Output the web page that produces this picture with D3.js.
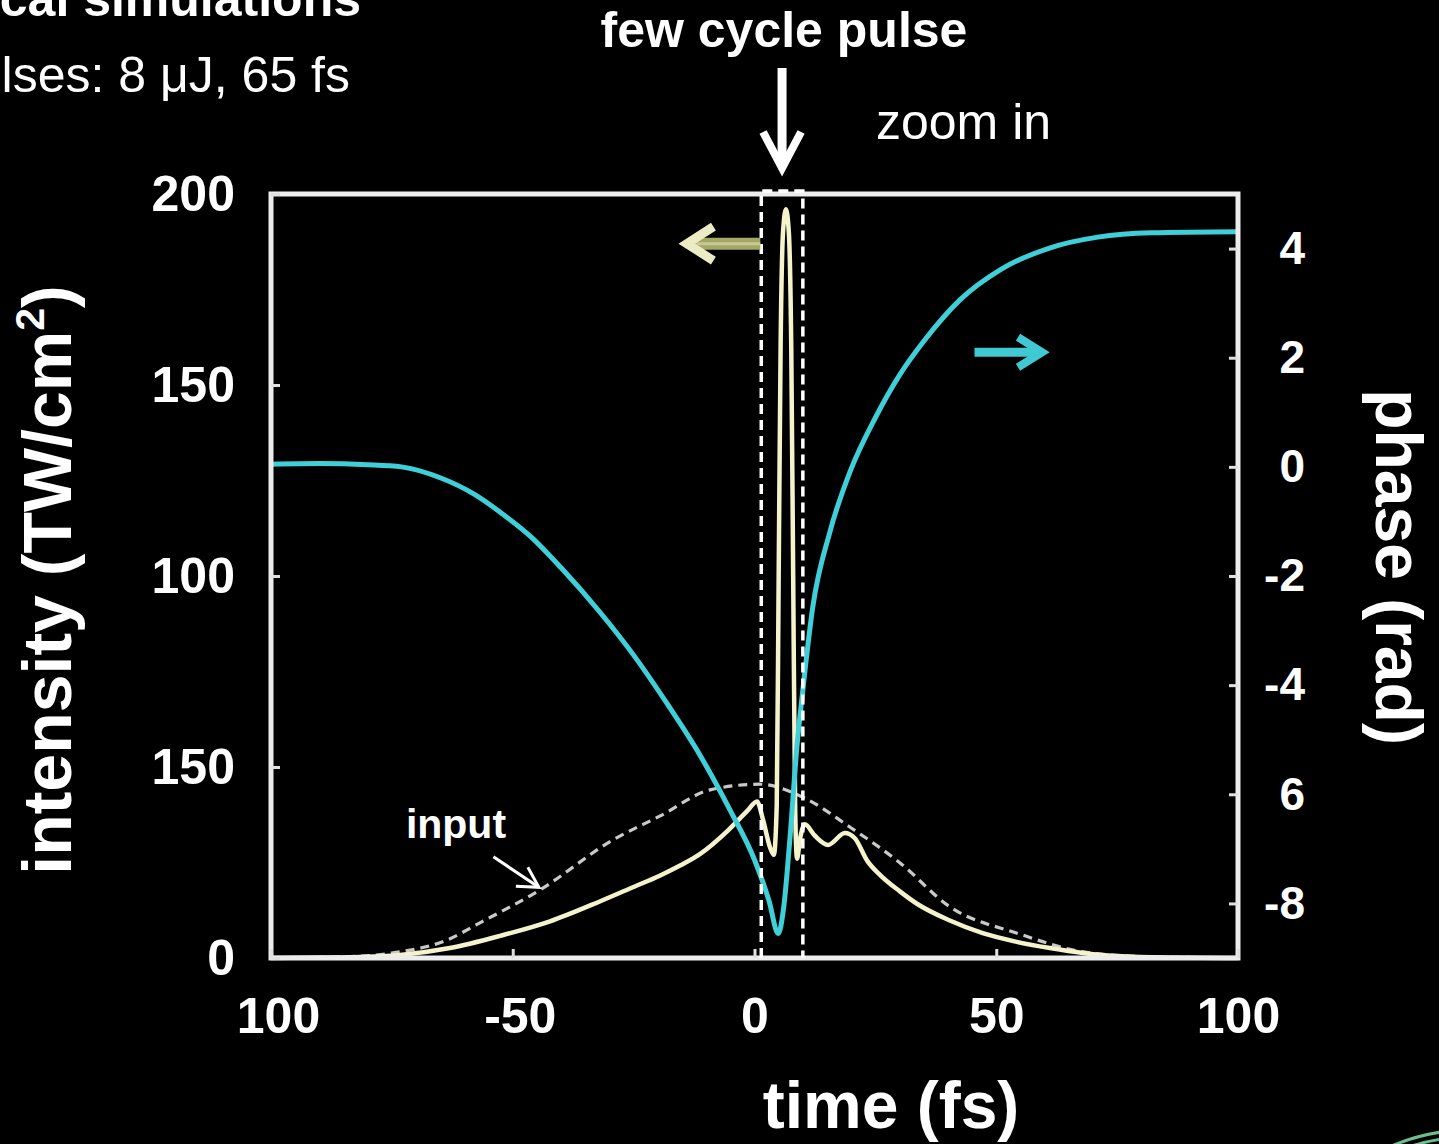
<!DOCTYPE html>
<html>
<head>
<meta charset="utf-8">
<script src="https://cdn.jsdelivr.net/npm/d3@7"></script>
<style>
  html, body { margin: 0; padding: 0; background: #000; }
  svg { display: block; }
</style>
</head>
<body>
<svg id="chart" width="1439" height="1144"></svg>
<script>
// ---- axis ticks and their printed labels ----
const timeTicks = [-100, -50, 0, 50, 100];
const timeTickLabels = ["100", "-50", "0", "50", "100"];
const intensityTicks = [0, 50, 100, 150, 200];
const intensityTickLabels = ["0", "150", "100", "150", "200"];
const phaseTicks = [-8, -6, -4, -2, 0, 2, 4];
const phaseTickLabels = ["-8", "6", "-4", "-2", "0", "2", "4"];

// ---- compressed output pulse: intensity (TW/cm^2) vs time (fs) ----
const outputTime = [-100, -90, -83.7, -73.3, -63, -52.6, -42.3, -32, -25, -19.5, -15.4, -11.3, -5.4,
  -1.5, 0.5, 1.8, 3.2, 4.0, 4.6, 5.0, 5.4, 5.9, 6.5, 7.1, 7.6, 8.0, 8.4, 8.8, 9.4, 10.4,
  12.5, 15.2, 18.7, 20.7, 23.4, 26, 30, 33.6, 40.4, 47.2, 54, 61.1, 67.9, 75, 85, 100];
const outputIntensity = [0, 0.1, 0.2, 0.8, 2.6, 5.8, 9.6, 14.8, 18.6, 21.6, 24.2, 27.2, 33.5,
  38.5, 41, 36, 29, 27, 40, 100, 160, 190, 196, 190, 160, 100, 40, 26, 31, 35,
  32, 29.6, 32.7, 31.4, 25.3, 21.7, 17.5, 14.2, 9.8, 6.5, 4.3, 2.6, 1.3, 0.5, 0.1, 0];

// ---- input pulse (8 uJ, 65 fs) ----
const inputTime = [-100, -85, -75, -63.6, -56.8, -44.4, -29.3, -19.5, -9.2, 1, 10, 19.7, 30.1,
  40.4, 54.3, 68, 80, 100];
const inputIntensity = [0, 0.3, 1.3, 4.7, 9.2, 17.8, 30.9, 37.2, 44, 45.5, 42.1, 34.3, 24.9,
  13.4, 6.5, 1.6, 0.4, 0];

// ---- spectral phase of the output pulse (rad) ----
const phaseTime = [-100, -90, -80, -73, -65, -58, -52.6, -46, -40, -32, -25, -18, -11.3, -5, 0,
  3, 4.9, 6.0, 7.3, 8.8, 10, 12, 15.6, 19.8, 25, 30, 35, 42.5, 50.8, 61, 71, 82, 100];
const phaseValue = [0.05, 0.06, 0.04, 0.0, -0.2, -0.5, -0.83, -1.3, -1.85, -2.66, -3.45, -4.35,
  -5.28, -6.3, -7.2, -7.95, -8.55, -8.1, -6.84, -5.1, -4.09, -2.6, -1.19, -0.08, 0.9, 1.68, 2.3,
  3.06, 3.61, 4.01, 4.21, 4.29, 4.31];

// time window of the few-cycle spike
const zoomWindow = [1.4, 10.0];

const FONT = "'Liberation Sans', Arial, Helvetica, sans-serif";
const svg = d3.select("#chart");

const plot = { left: 271, right: 1238, top: 194, bottom: 958 };
const x = d3.scaleLinear().domain([-100, 100]).range([plot.left, plot.right]);
const yI = d3.scaleLinear().domain([0, 200]).range([plot.bottom, plot.top]);
const yP = d3.scaleLinear().domain([-9, 5]).range([plot.bottom, plot.top]);

// ---- headings above the plot ----
svg.append("text").attr("x", 361).attr("y", 16).attr("text-anchor", "end")
  .attr("font-family", FONT).attr("font-weight", "bold").attr("font-size", 50)
  .attr("fill", "#fff").text("cal simulations");
svg.append("text").attr("x", 350).attr("y", 92).attr("text-anchor", "end")
  .attr("font-family", FONT).attr("font-size", 50)
  .attr("fill", "#fff").text("lses: 8 μJ, 65 fs");
svg.append("text").attr("x", 784).attr("y", 47).attr("text-anchor", "middle")
  .attr("font-family", FONT).attr("font-weight", "bold").attr("font-size", 50)
  .attr("fill", "#fff").text("few cycle pulse");
svg.append("text").attr("x", 876).attr("y", 139)
  .attr("font-family", FONT).attr("font-size", 50)
  .attr("fill", "#fff").text("zoom in");

// down arrow pointing at the spike
const spikeX = x(d3.mean(zoomWindow));
svg.append("line").attr("x1", spikeX).attr("x2", spikeX).attr("y1", 68).attr("y2", 166)
  .attr("stroke", "#fff").attr("stroke-width", 9);
svg.append("path")
  .attr("d", `M${spikeX - 19},${132} L${spikeX},${168} L${spikeX + 19},${132}`)
  .attr("fill", "none").attr("stroke", "#fff").attr("stroke-width", 8)
  .attr("stroke-linejoin", "miter");

// ---- curves ----
const curve = d3.curveMonotoneX;

const inputLine = d3.line().x(d => x(d[0])).y(d => yI(d[1])).curve(curve);
svg.append("path")
  .datum(d3.zip(inputTime, inputIntensity))
  .attr("d", inputLine)
  .attr("fill", "none").attr("stroke", "#c9c9c9").attr("stroke-width", 3.2)
  .attr("stroke-dasharray", "9,6");

const outputLine = d3.line().x(d => x(d[0])).y(d => yI(d[1])).curve(curve);
svg.append("path")
  .datum(d3.zip(outputTime, outputIntensity))
  .attr("d", outputLine)
  .attr("fill", "none").attr("stroke", "#f4f3cc").attr("stroke-width", 4.5)
  .attr("stroke-linejoin", "round");

const phaseLine = d3.line().x(d => x(d[0])).y(d => yP(d[1])).curve(curve);
svg.append("path")
  .datum(d3.zip(phaseTime, phaseValue))
  .attr("d", phaseLine)
  .attr("fill", "none").attr("stroke", "#3fcfd8").attr("stroke-width", 5)
  .attr("stroke-linejoin", "round");

// ---- plot frame ----
svg.append("rect")
  .attr("x", plot.left).attr("y", plot.top)
  .attr("width", plot.right - plot.left).attr("height", plot.bottom - plot.top)
  .attr("fill", "none").attr("stroke", "#ececec").attr("stroke-width", 5);

// ---- axes ----
function styleAxis(g) {
  g.select(".domain").remove();
  g.selectAll(".tick line").attr("stroke", "#e0e0e0").attr("stroke-width", 3);
  g.selectAll(".tick text").attr("fill", "#fff").attr("font-family", FONT)
    .attr("font-weight", "bold").attr("font-size", 50);
}

svg.append("g").attr("transform", `translate(0,${plot.bottom})`)
  .call(d3.axisBottom(x).tickValues(timeTicks)
    .tickFormat((d, i) => timeTickLabels[i]).tickSizeInner(-9).tickSizeOuter(0).tickPadding(39))
  .call(styleAxis)
  .call(g => g.selectAll(".tick text").attr("dx", d => (d < 0 ? 7 : 0)));

svg.append("g").attr("transform", `translate(${plot.left},0)`)
  .call(d3.axisLeft(yI).tickValues(intensityTicks)
    .tickFormat((d, i) => intensityTickLabels[i]).tickSizeInner(-9).tickSizeOuter(0).tickPadding(36))
  .call(styleAxis);

svg.append("g").attr("transform", `translate(${plot.right},0)`)
  .call(d3.axisRight(yP).tickValues(phaseTicks)
    .tickFormat((d, i) => phaseTickLabels[i]).tickSizeInner(-9).tickSizeOuter(0))
  .call(styleAxis)
  .call(g => g.selectAll(".tick text").attr("text-anchor", "end").attr("x", 67).attr("font-size", 46));

// ---- axis titles ----
svg.append("text").attr("x", 891).attr("y", 1128).attr("text-anchor", "middle")
  .attr("font-family", FONT).attr("font-weight", "bold").attr("font-size", 66)
  .attr("fill", "#fff").text("time (fs)");

const yTitle = svg.append("text")
  .attr("transform", "translate(71,580) rotate(-90)")
  .attr("text-anchor", "middle")
  .attr("font-family", FONT).attr("font-weight", "bold").attr("font-size", 68)
  .attr("fill", "#fff");
yTitle.append("tspan").text("intensity (TW/cm");
yTitle.append("tspan").attr("font-size", 41).attr("dy", -27).text("2");
yTitle.append("tspan").attr("dy", 27).text(")");

svg.append("text")
  .attr("transform", "translate(1376,567) rotate(90)")
  .attr("text-anchor", "middle")
  .attr("font-family", FONT).attr("font-weight", "bold").attr("font-size", 66)
  .attr("fill", "#fff").text("phase (rad)");

// ---- dashed zoom window around the spike ----
svg.append("path")
  .attr("d", `M${x(zoomWindow[0])},${plot.bottom} L${x(zoomWindow[0])},${plot.top - 3}
              L${x(zoomWindow[1])},${plot.top - 3} L${x(zoomWindow[1])},${plot.bottom}`)
  .attr("fill", "none").attr("stroke", "#fff").attr("stroke-width", 3.5)
  .attr("stroke-dasharray", "10,6");

// ---- arrows telling which axis each curve uses ----
const yArrowY = yI(187);
svg.append("line")
  .attr("x1", x(-13.2)).attr("x2", x(1.2)).attr("y1", yArrowY).attr("y2", yArrowY)
  .attr("stroke", "#a4a866").attr("stroke-width", 12);
svg.append("line")
  .attr("x1", x(-12)).attr("x2", x(1.2)).attr("y1", yArrowY).attr("y2", yArrowY)
  .attr("stroke", "#c8c890").attr("stroke-width", 3);
svg.append("path")
  .attr("d", `M${x(-8.5)},${yArrowY - 17} L${x(-14)},${yArrowY} L${x(-8.5)},${yArrowY + 17}`)
  .attr("fill", "none").attr("stroke", "#ebebc4").attr("stroke-width", 9);

const pArrowY = yP(2.1);
svg.append("line")
  .attr("x1", x(45.5)).attr("x2", x(59)).attr("y1", pArrowY).attr("y2", pArrowY)
  .attr("stroke", "#3fc9d2").attr("stroke-width", 9);
svg.append("path")
  .attr("d", `M${x(54.5)},${pArrowY - 15} L${x(59.5)},${pArrowY} L${x(54.5)},${pArrowY + 15}`)
  .attr("fill", "none").attr("stroke", "#3fc9d2").attr("stroke-width", 8);

// ---- "input" annotation ----
svg.append("text").attr("x", x(-72.1)).attr("y", yI(31.5))
  .attr("font-family", FONT).attr("font-weight", "bold").attr("font-size", 41)
  .attr("fill", "#fff").text("input");
const ax0 = x(-54), ay0 = yI(26.5), ax1 = x(-44.6), ay1 = yI(18.5);
svg.append("line").attr("x1", ax0).attr("y1", ay0).attr("x2", ax1).attr("y2", ay1)
  .attr("stroke", "#fff").attr("stroke-width", 3);
svg.append("path")
  .attr("d", `M${ax1 - 23},${ay1 - 1} L${ax1},${ay1} L${ax1 - 11},${ay1 - 20}`)
  .attr("fill", "none").attr("stroke", "#fff").attr("stroke-width", 3);

// ---- corner emblem ----
const arc = d3.arc().startAngle(-Math.PI / 4).endAngle(0);
[200, 193].forEach(r => {
  svg.append("path")
    .attr("transform", "translate(1470,1330)")
    .attr("d", arc({ innerRadius: r, outerRadius: r }))
    .attr("fill", "none").attr("stroke", "#6cbf8c").attr("stroke-width", 3);
});
</script>
</body>
</html>
